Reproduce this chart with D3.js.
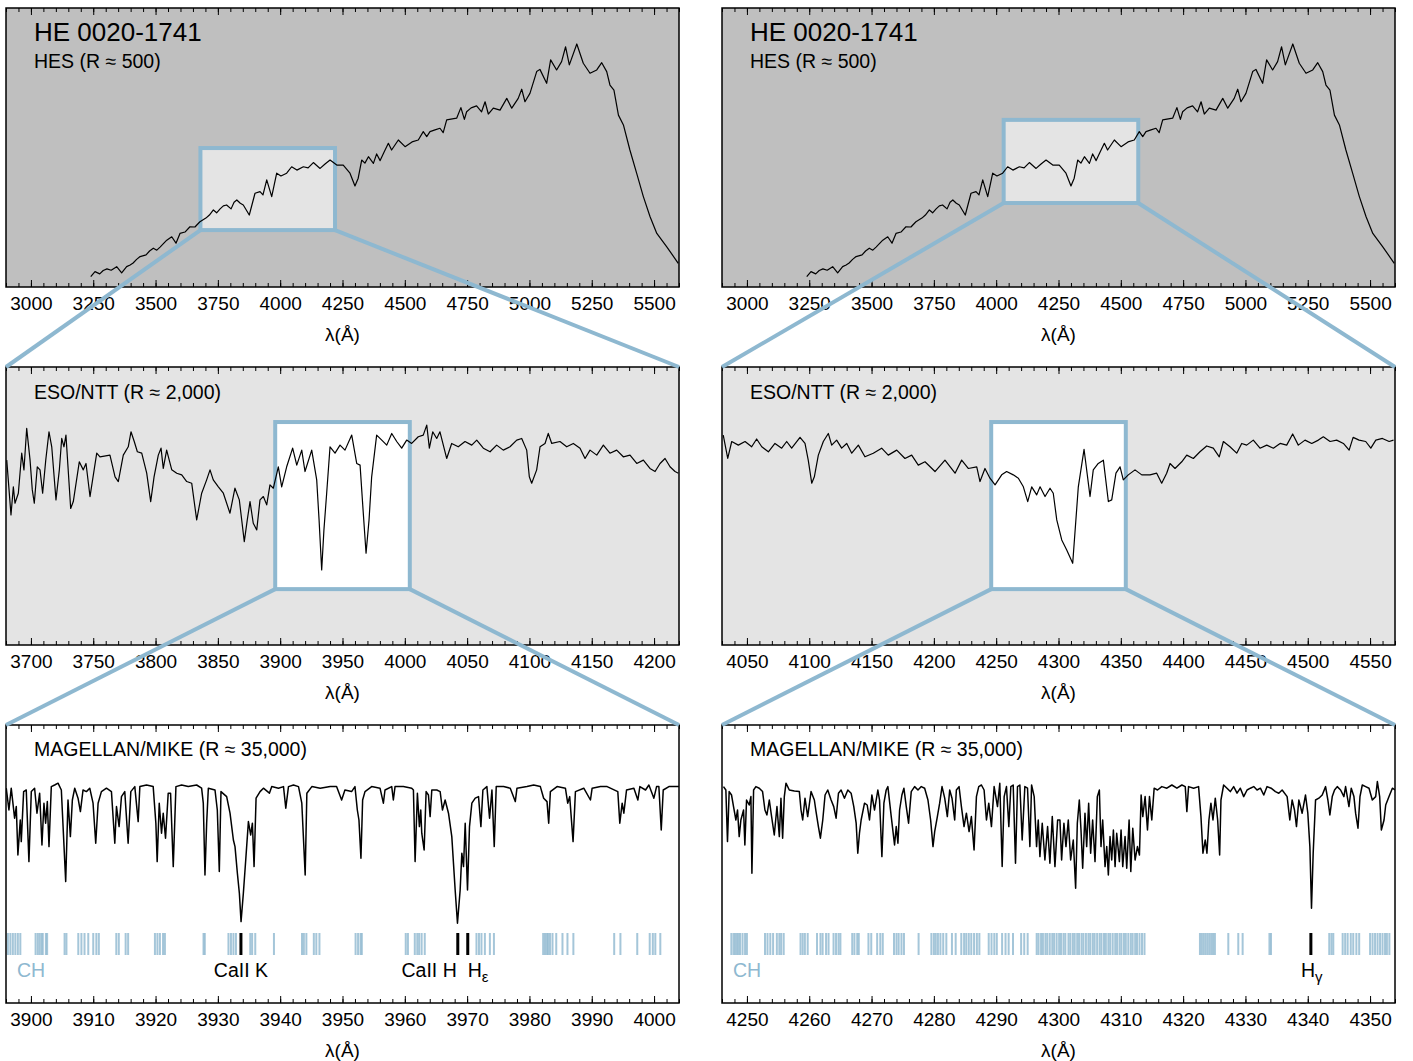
<!DOCTYPE html>
<html>
<head>
<meta charset="utf-8">
<script src="https://cdn.jsdelivr.net/npm/d3@7"></script>
<style>
  body { margin: 0; background: #fff; }
  svg text { font-family: "Liberation Sans", Arial, Helvetica, sans-serif; fill: #000; }
</style>
</head>
<body>
<svg id="chart" width="1413" height="1061"></svg>
<script>
// ---- data (wavelength in Angstrom, flux in arbitrary units) ----
const hesSpec = [
  [3240,3.7],[3257,5.5],[3276,4.7],[3290,5.9],[3305,6.5],[3322,6.0],[3344,7.3],[3364,5.1],[3384,7.3],[3398,7.9],[3410,8.6],[3424,9.9],[3438,10.9],[3462,11.5],
  [3476,12.9],[3491,13.9],[3505,13.2],[3518,14.3],[3545,16.8],[3565,18.0],[3582,15.7],[3598,19.2],[3618,19.7],[3638,21.6],[3658,21.5],[3678,23.4],
  [3702,24.7],[3716,25.8],[3732,27.6],[3745,26.6],[3759,28.0],[3772,29.1],[3785,29.4],[3803,28.0],[3815,30.4],[3826,31.2],[3840,30.0],[3852,29.4],[3876,25.8],[3899,33.6],[3919,34.2],
  [3931,33.0],[3946,38.4],[3966,32.4],[3986,40.8],[4003,39.8],[4026,40.8],[4046,43.1],[4067,41.9],[4093,43.1],[4112,42.7],
  [4133,44.6],[4160,42.5],[4180,44.1],[4200,45.5],[4227,43.7],[4253,43.7],[4280,40.8],[4300,36.2],[4313,39.0],[4327,45.5],
  [4340,44.4],[4354,46.7],[4374,44.3],[4387,47.7],[4401,45.3],[4417,48.4],[4434,51.5],[4447,49.1],[4474,52.7],[4501,50.3],
  [4529,52.0],[4554,52.7],[4574,55.7],[4588,53.9],[4601,55.7],[4621,56.3],[4641,56.9],[4654,55.3],[4668,59.9],[4685,60.2],
  [4708,60.5],[4725,64.3],[4739,60.1],[4748,62.8],[4766,64.2],[4788,64.9],[4808,62.8],[4822,66.4],[4835,62.0],[4855,64.1],
  [4882,63.4],[4909,67.6],[4929,64.1],[4955,67.6],[4969,70.9],[4982,66.4],[5002,69.4],[5029,77.2],[5042,78.0],[5069,73.0],
  [5085,81.4],[5109,77.8],[5129,80.8],[5145,86.1],[5160,79.6],[5190,87.1],[5216,80.2],[5243,76.6],[5270,77.8],[5290,80.4],
  [5310,77.2],[5323,72.4],[5339,70.6],[5357,61.6],[5377,58.1],[5403,49.1],[5430,40.8],[5457,32.4],[5484,25.2],[5511,19.2],
  [5551,14.4],[5597,8.5]
];

const nttBlue = [
  [3680.6,66.5],[3684.0,46.8],[3685.9,56.9],[3687.2,51.0],[3689.9,54.6],[3692.6,69.0],[3694.4,63.0],[3696.6,77.9],[3699.3,66.5],[3701.1,55.8],
  [3702.7,51.0],[3705.1,64.1],[3707.3,63.0],[3709.4,54.6],[3711.9,66.5],[3714.5,76.7],[3716.7,71.3],[3720.1,52.2],[3722.8,63.0],[3724.7,74.3],
  [3726.5,71.3],[3728.1,75.5],[3731.9,49.1],[3734.0,51.6],[3738.8,65.9],[3742.0,63.0],[3744.2,65.3],[3747.4,53.4],[3752.8,69.0],[3755.4,67.7],
  [3763.4,68.3],[3767.5,60.5],[3770.1,58.8],[3774.1,68.3],[3778.1,71.3],[3780.3,76.7],[3782.9,73.2],[3785.4,69.5],[3788.9,69.0],[3792.9,61.8],
  [3796.1,51.6],[3798.8,60.5],[3802.2,68.3],[3804.4,70.8],[3806.2,63.5],[3808.9,70.1],[3813.0,63.0],[3817.0,61.8],[3821.0,61.2],[3825.0,58.8],
  [3829.0,58.2],[3833.0,45.0],[3837.0,54.6],[3841.0,59.4],[3843.7,63.0],[3846.3,59.4],[3850.4,56.9],[3854.4,54.6],[3859.7,47.4],[3863.7,56.4],
  [3867.2,52.2],[3871.2,37.2],[3873.6,45.0],[3875.8,51.6],[3878.4,43.8],[3881.2,41.4],[3883.8,52.2],[3886.5,53.4],[3889.2,50.4],[3891.8,57.6],
  [3894.5,56.4],[3898.5,64.1],[3901.2,56.9],[3905.2,64.1],[3910.0,70.8],[3913.3,64.7],[3917.3,70.1],[3919.9,62.4],[3925.3,70.1],[3929.3,59.4],
  [3931.2,45.0],[3933.3,27.0],[3935.1,41.4],[3937.3,54.6],[3940.0,71.3],[3944.0,69.0],[3948.0,71.9],[3952.0,70.1],[3957.4,75.5],[3961.4,65.3],
  [3964.1,64.7],[3966.5,48.6],[3968.9,33.0],[3971.3,45.0],[3973.4,60.5],[3977.4,75.5],[3981.5,73.7],[3985.5,71.9],[3989.5,76.1],[3993.5,73.2],
  [3997.5,70.8],[4001.5,73.7],[4005.5,72.5],[4010.8,74.9],[4014.8,75.5],[4017.6,79.1],[4019.7,70.8],[4022.4,76.7],[4025.6,74.3],[4028.2,76.7],
  [4033.6,67.1],[4037.6,72.5],[4042.9,71.3],[4048.3,73.2],[4053.7,71.9],[4057.7,73.7],[4063.0,70.8],[4068.4,69.5],[4073.7,71.9],[4079.0,70.1],
  [4084.4,71.3],[4089.8,73.7],[4093.8,74.3],[4097.8,70.1],[4099.9,60.5],[4101.8,58.2],[4105.8,63.0],[4108.5,71.3],[4112.5,72.5],[4115.1,76.1],
  [4117.9,72.5],[4124.5,73.2],[4129.9,71.3],[4135.2,72.5],[4140.6,70.8],[4144.6,67.1],[4148.6,70.1],[4154.0,68.3],[4159.3,71.9],[4164.6,69.0],
  [4170.0,70.1],[4175.3,67.7],[4180.7,68.3],[4186.1,65.3],[4191.4,66.5],[4196.7,63.5],[4200.8,62.4],[4204.8,65.3],[4208.8,67.1],[4212.8,64.1],
  [4216.8,62.4],[4219.5,61.8]
];

const nttRed = [
  [4031.0,75.5],[4034.6,67.1],[4037.8,73.2],[4043.1,71.9],[4048.5,73.2],[4053.8,71.3],[4057.8,74.1],[4061.9,71.3],[4067.2,69.5],[4072.5,72.5],
  [4077.9,70.8],[4081.9,73.2],[4085.9,70.8],[4092.6,74.7],[4096.6,72.5],[4099.2,66.5],[4102.0,58.2],[4104.1,60.5],[4107.3,68.3],[4111.3,73.2],
  [4115.3,76.1],[4118.0,71.9],[4122.0,73.7],[4126.0,70.8],[4130.1,72.5],[4134.1,69.0],[4139.4,71.9],[4144.7,67.7],[4151.4,69.0],[4158.1,70.8],
  [4163.4,68.3],[4170.2,70.1],[4176.8,67.1],[4182.2,68.3],[4187.5,64.7],[4192.9,65.9],[4200.9,62.4],[4208.9,66.5],[4217.0,61.8],[4222.3,66.5],
  [4227.6,63.5],[4234.4,64.1],[4237.0,58.8],[4241.0,63.5],[4245.0,60.0],[4249.1,57.6],[4254.4,61.2],[4258.4,62.4],[4263.7,61.2],[4267.8,60.0],
  [4271.8,56.9],[4275.3,51.6],[4278.5,56.9],[4282.5,54.0],[4285.2,56.9],[4289.2,53.4],[4293.2,56.4],[4295.8,54.6],[4298.6,45.0],[4302.6,37.8],
  [4306.6,34.2],[4311.4,29.4],[4315.9,56.9],[4320.5,70.4],[4325.3,53.4],[4327.9,63.0],[4331.9,65.3],[4336.0,66.5],[4340.0,51.6],[4342.7,52.2],
  [4346.1,61.8],[4349.4,64.1],[4352.0,59.4],[4356.0,61.2],[4361.4,63.0],[4366.8,61.2],[4373.4,61.2],[4378.8,61.8],[4382.8,58.2],[4386.8,61.8],
  [4389.5,65.3],[4393.5,63.5],[4398.9,65.9],[4402.9,68.3],[4408.2,67.1],[4413.5,69.5],[4418.9,71.6],[4424.2,70.8],[4429.0,67.7],[4432.3,73.2],
  [4437.6,71.3],[4443.0,69.0],[4447.0,72.5],[4451.0,71.9],[4456.3,73.7],[4461.7,70.8],[4467.1,71.9],[4472.4,70.8],[4477.8,72.5],[4483.1,71.9],
  [4487.9,75.9],[4492.4,71.9],[4497.8,73.7],[4503.2,72.5],[4508.5,73.7],[4512.5,74.9],[4517.9,73.2],[4523.2,73.7],[4528.6,72.5],[4533.2,70.1],
  [4536.4,74.7],[4541.2,73.7],[4546.5,73.2],[4550.6,70.8],[4554.6,73.7],[4559.9,74.3],[4565.3,73.2],[4568.8,73.7]
];

const mikeBlue = [
  [3896.04,0.992],[3896.47,0.883],[3896.84,0.992],[3897.38,0.842],[3897.65,0.9],[3897.91,0.658],[3898.29,0.833],[3898.45,0.725],[3898.83,0.975],[3899.25,0.983],
  [3899.68,0.625],[3900.06,0.975],[3900.59,0.992],[3900.97,0.867],[3901.4,0.967],[3901.77,0.708],[3902.09,0.917],[3902.36,0.817],[3902.63,0.925],[3902.9,0.7],
  [3903.27,1.0],[3903.81,1.008],[3904.35,1.017],[3904.88,0.983],[3905.58,0.525],[3905.95,0.933],[3906.33,0.75],[3906.65,0.933],[3907.03,0.992],[3907.56,0.942],
  [3907.94,0.875],[3908.36,0.983],[3908.9,0.975],[3909.44,0.992],[3909.97,0.917],[3910.4,0.717],[3910.78,0.917],[3911.31,0.975],[3912.12,0.992],[3912.92,0.975],
  [3913.46,0.717],[3913.73,0.9],[3914.15,0.8],[3914.53,0.95],[3915.06,0.975],[3915.6,0.717],[3916.03,0.975],[3916.67,1.0],[3917.21,0.825],[3917.48,1.0],
  [3918.55,1.008],[3919.62,1.0],[3920.05,0.817],[3920.26,0.625],[3920.59,0.917],[3920.96,0.767],[3921.23,0.867],[3921.6,0.742],[3922.03,0.967],[3922.41,0.967],
  [3922.84,0.6],[3923.27,1.0],[3924.18,1.008],[3925.25,1.0],[3926.59,1.008],[3927.39,0.992],[3927.66,0.917],[3927.93,0.558],[3928.2,0.817],[3928.47,0.992],
  [3929.54,0.983],[3929.91,0.883],[3930.23,0.575],[3930.5,0.975],[3931.41,0.95],[3931.95,0.867],[3932.49,0.733],[3932.75,0.7],[3933.13,0.567],[3933.45,0.467],
  [3933.72,0.325],[3934.09,0.467],[3934.47,0.633],[3934.9,0.825],[3935.27,0.758],[3935.54,0.817],[3935.81,0.6],[3936.13,0.942],[3936.77,0.975],[3937.31,0.992],
  [3938.27,0.967],[3938.65,1.0],[3939.72,0.992],[3940.53,1.0],[3940.9,0.892],[3941.33,1.0],[3942.13,1.008],[3942.94,1.0],[3943.47,0.917],[3944.01,0.558],
  [3944.28,0.967],[3945.08,1.0],[3946.42,0.992],[3948.03,1.0],[3949.05,1.0],[3949.86,0.933],[3950.39,0.983],[3951.46,0.975],[3952.0,1.0],[3952.38,0.883],
  [3952.64,0.833],[3952.96,0.642],[3953.23,0.933],[3953.61,0.975],[3954.68,1.0],[3956.02,0.992],[3956.56,0.917],[3956.82,0.983],[3957.9,1.0],[3958.16,0.933],
  [3958.43,1.0],[3959.77,1.0],[3961.11,0.992],[3961.38,0.983],[3961.65,0.625],[3962.02,0.967],[3962.34,0.8],[3962.56,0.883],[3962.72,0.767],[3963.1,0.683],
  [3963.42,0.975],[3963.79,0.958],[3964.06,0.85],[3964.33,0.983],[3965.13,0.983],[3965.67,0.975],[3966.04,0.883],[3966.47,0.933],[3967.01,0.867],[3967.54,0.75],
  [3968.08,0.483],[3968.45,0.317],[3968.88,0.483],[3969.15,0.667],[3969.42,0.6],[3969.69,0.817],[3970.06,0.483],[3970.38,0.8],[3970.76,0.917],[3971.3,0.942],
  [3971.83,0.95],[3972.21,0.8],[3972.53,0.983],[3973.17,1.0],[3973.6,0.842],[3973.98,0.983],[3974.35,0.7],[3974.67,1.0],[3975.85,1.0],[3976.92,0.992],
  [3977.73,0.925],[3978.0,0.992],[3979.6,1.0],[3980.68,1.008],[3981.75,1.0],[3982.28,0.942],[3982.82,0.925],[3983.09,0.817],[3983.36,0.975],[3984.43,1.0],
  [3985.77,0.992],[3986.14,0.917],[3986.46,0.95],[3987.0,0.725],[3987.38,0.975],[3988.72,0.992],[3989.79,0.933],[3990.06,0.992],[3991.4,1.0],[3992.47,1.0],
  [3994.18,0.975],[3994.5,0.817],[3994.88,0.917],[3995.15,0.867],[3995.58,0.983],[3996.76,0.992],[3997.4,0.933],[3997.72,1.0],[3998.63,0.983],[3999.17,1.008],
  [3999.97,0.942],[4000.4,1.0],[4000.77,1.0],[4001.15,0.783],[4001.47,0.983],[4002.38,1.0],[4003.99,1.0]
];

const mikeRed = [
  [4246.24,1.0],[4246.62,0.983],[4246.88,0.725],[4247.15,0.975],[4247.53,0.958],[4247.85,0.9],[4248.23,0.833],[4248.49,0.883],[4248.76,0.75],[4249.03,0.833],
  [4249.46,0.883],[4249.67,0.708],[4249.94,0.933],[4250.37,0.908],[4250.64,0.95],[4250.8,0.567],[4251.07,0.983],[4251.44,1.0],[4251.98,0.992],[4252.51,0.975],
  [4252.89,0.883],[4253.21,0.858],[4253.59,0.933],[4253.96,0.85],[4254.39,0.758],[4254.82,0.9],[4255.2,0.75],[4255.46,0.942],[4255.73,0.742],[4256.0,0.95],
  [4256.27,1.017],[4256.8,0.983],[4257.61,0.978],[4258.41,0.975],[4258.68,0.883],[4258.95,0.833],[4259.32,0.942],[4259.75,0.85],[4260.29,0.975],[4260.82,0.933],
  [4261.09,0.875],[4261.47,0.8],[4261.79,0.742],[4262.17,0.833],[4262.54,0.958],[4262.97,0.983],[4263.51,0.933],[4263.93,0.9],[4264.31,0.842],[4264.69,0.967],
  [4265.11,0.983],[4265.65,0.942],[4266.19,0.983],[4266.72,0.967],[4267.15,0.9],[4267.53,0.817],[4267.79,0.667],[4268.06,0.767],[4268.33,0.833],[4268.87,0.917],
  [4269.3,0.908],[4269.67,0.833],[4270.05,0.958],[4270.48,0.883],[4271.01,0.983],[4271.28,0.933],[4271.66,0.65],[4271.98,0.917],[4272.35,0.983],[4272.62,1.0],
  [4273.16,0.85],[4273.69,0.708],[4273.96,0.8],[4274.23,0.717],[4274.5,0.883],[4274.87,0.958],[4275.19,0.992],[4275.57,0.9],[4275.94,0.817],[4276.37,0.975],
  [4276.91,1.0],[4277.45,0.983],[4277.98,1.0],[4278.52,0.992],[4279.05,0.933],[4279.48,0.833],[4279.86,0.7],[4280.13,0.775],[4280.56,0.85],[4280.93,0.917],
  [4281.31,1.0],[4281.74,0.942],[4282.16,0.85],[4282.54,0.983],[4282.91,0.942],[4283.34,0.833],[4283.61,0.983],[4284.04,1.0],[4284.42,0.9],[4284.84,0.8],
  [4285.22,0.867],[4285.65,0.775],[4286.02,0.85],[4286.45,0.683],[4286.83,0.95],[4287.2,1.0],[4287.63,1.008],[4288.06,0.983],[4288.44,0.833],[4288.81,0.917],
  [4289.24,0.8],[4289.67,1.0],[4290.21,0.9],[4290.58,1.017],[4290.96,0.6],[4291.28,0.95],[4291.65,1.0],[4292.03,0.8],[4292.35,1.0],[4292.73,1.008],
  [4293.1,0.617],[4293.42,1.0],[4293.8,1.008],[4294.17,0.733],[4294.6,1.0],[4295.03,0.992],[4295.41,0.7],[4295.68,1.008],[4296.1,0.95],[4296.48,0.7],
  [4296.75,0.833],[4297.02,0.65],[4297.39,0.817],[4297.82,0.633],[4298.25,0.8],[4298.62,0.617],[4299.0,0.85],[4299.43,0.6],[4299.86,0.833],[4300.23,0.833],
  [4300.5,0.633],[4300.87,0.817],[4301.2,0.7],[4301.57,0.833],[4301.95,0.633],[4302.37,0.733],[4302.75,0.492],[4303.02,0.817],[4303.34,0.933],[4303.61,0.783],
  [4303.88,0.592],[4304.25,0.867],[4304.52,0.7],[4304.84,0.917],[4305.16,0.667],[4305.48,0.833],[4305.86,0.625],[4306.23,0.95],[4306.56,0.983],[4306.82,0.7],
  [4307.09,0.833],[4307.47,0.6],[4307.74,0.7],[4308.0,0.558],[4308.27,0.75],[4308.54,0.633],[4308.81,0.783],[4309.08,0.6],[4309.34,0.767],[4309.77,0.625],
  [4310.04,0.783],[4310.31,0.6],[4310.68,0.75],[4310.95,0.592],[4311.33,0.833],[4311.6,0.575],[4311.92,0.792],[4312.29,0.633],[4312.67,0.7],[4312.99,0.658],
  [4313.26,0.958],[4313.53,0.85],[4313.9,0.95],[4314.28,0.783],[4314.6,0.95],[4314.97,0.833],[4315.35,0.992],[4315.89,0.983],[4316.58,1.0],[4317.39,0.992],
  [4318.19,1.008],[4319.0,0.992],[4319.8,1.008],[4320.34,1.0],[4320.6,0.875],[4320.87,1.0],[4321.68,0.992],[4322.48,1.0],[4322.86,0.85],[4323.18,0.667],
  [4323.55,0.733],[4323.82,0.667],[4324.14,0.833],[4324.46,0.917],[4324.79,0.833],[4325.16,0.942],[4325.54,0.833],[4325.86,0.658],[4326.07,0.933],[4326.5,1.008],
  [4327.04,0.992],[4327.57,0.975],[4328.11,1.0],[4328.65,0.967],[4329.18,0.992],[4329.72,0.95],[4330.26,0.983],[4330.79,0.992],[4331.33,1.0],[4331.86,0.983],
  [4332.4,0.992],[4332.94,0.958],[4333.47,1.0],[4334.12,0.992],[4334.81,0.975],[4335.35,0.967],[4335.89,0.983],[4336.69,0.95],[4337.12,0.833],[4337.49,0.933],
  [4337.87,0.883],[4338.19,0.8],[4338.57,0.933],[4339.1,0.867],[4339.64,0.958],[4340.01,0.867],[4340.34,0.7],[4340.6,0.392],[4340.87,0.667],[4341.25,0.933],
  [4341.78,0.942],[4342.32,0.958],[4342.86,1.0],[4343.23,0.933],[4343.55,0.858],[4343.93,0.95],[4344.3,0.983],[4344.73,1.0],[4345.27,0.983],[4345.8,0.95],
  [4346.07,1.0],[4346.61,0.9],[4346.98,0.992],[4347.41,0.95],[4347.68,0.867],[4348.06,0.792],[4348.38,0.95],[4348.75,1.008],[4349.29,1.0],[4349.83,0.992],
  [4350.36,0.933],[4350.9,0.95],[4351.17,1.025],[4351.54,0.95],[4351.81,0.783],[4352.24,0.833],[4352.51,0.908],[4353.04,0.95],[4353.58,0.992],[4354.0,0.983]
];

// CH molecular line positions (Angstrom)
const chBlue = [3896.3,3896.7,3897.1,3897.5,3897.9,3898.3,3900.75,3901.1,3901.4,3901.7,3901.9,3902.4,3902.6,3905.4,3905.7,
  3907.6,3908.1,3908.6,3909.2,3910.0,3910.5,3910.9,3913.7,3914.1,3915.2,3915.6,3919.9,3920.3,3920.7,3921.2,3921.5,
  3927.7,3927.9,3931.7,3932.1,3932.5,3932.9,3935.2,3935.5,3936.0,3939.0,3943.5,3943.8,3944.2,3945.4,3945.8,3946.3,
  3952.1,3952.5,3952.9,3953.1,3960.15,3960.5,3961.6,3962.0,3962.3,3962.7,3963.2,3971.5,3971.9,3972.3,3972.85,3973.65,3974.3,
  3982.2,3982.5,3982.8,3983.0,3983.3,3983.7,3984.3,3985.3,3986.1,3987.05,3993.6,3994.6,3997.3,3999.3,3999.8,4000.2,4001.0];
const chRed = [4247.5,4247.85,4248.1,4248.4,4248.65,4248.9,4249.3,4249.7,4250.0,4252.9,4253.3,4253.75,4254.2,4254.8,4255.2,4255.5,4255.9,
  4258.6,4258.95,4259.3,4259.75,4261.25,4261.8,4262.15,4262.7,4263.1,4263.9,4264.3,4264.7,4265.0,4266.9,4267.25,4267.7,4267.95,
  4269.5,4269.95,4270.9,4271.4,4271.8,4273.6,4274.0,4274.35,4274.8,4275.2,4277.55,4279.6,4280.0,4280.3,4280.65,4281.05,4281.5,4282.0,
  4282.9,4283.5,4284.4,4284.85,4285.2,4285.6,4286.0,4286.45,4286.9,4287.3,4288.8,4289.25,4289.7,4290.1,4290.95,4291.5,4292.0,4292.7,
  4294.0,4294.5,4295.05,4296.5,4296.8,4297.2,4297.5,4297.9,4298.2,4298.6,4299.0,4299.3,4299.7,4300.1,4300.4,4300.8,4301.1,4301.6,
  4301.9,4302.3,4302.6,4303.0,4303.3,4303.7,4304.0,4304.4,4304.8,4305.1,4305.5,4305.8,4306.2,4306.6,4306.9,4307.3,4307.6,4308.0,
  4308.3,4308.7,4309.1,4309.4,4309.8,4310.1,4310.5,4310.8,4311.2,4311.6,4311.9,4312.3,4312.6,4313.0,4313.4,4313.8,
  4322.7,4323.0,4323.3,4323.6,4323.9,4324.2,4324.5,4324.8,4325.1,4327.25,4328.85,4329.55,4333.85,4334.1,
  4343.45,4343.8,4344.1,4345.6,4346.0,4346.4,4346.9,4347.3,4347.8,4348.25,4350.0,4350.4,4350.8,4351.2,4351.6,4352.0,4352.4,4352.7,4353.1];

// labelled atomic lines
const linesBlue = [{w: 3933.7, label: "CaII K", anchor: "middle"}, {w: 3968.5, label: "CaII H", anchor: "end"}, {w: 3970.1, label: "H", sub: "ε", anchor: "start"}];
const linesRed = [{w: 4340.5, label: "H", sub: "γ", anchor: "hgamma"}];

const ticksHes = [3000, 3250, 3500, 3750, 4000, 4250, 4500, 4750, 5000, 5250, 5500];
const ticksNttBlue = [3700, 3750, 3800, 3850, 3900, 3950, 4000, 4050, 4100, 4150, 4200];
const ticksNttRed = [4050, 4100, 4150, 4200, 4250, 4300, 4350, 4400, 4450, 4500, 4550];
const ticksMikeBlue = [3900, 3910, 3920, 3930, 3940, 3950, 3960, 3970, 3980, 3990, 4000];
const ticksMikeRed = [4250, 4260, 4270, 4280, 4290, 4300, 4310, 4320, 4330, 4340, 4350];

// ---- layout ----
const BLUE = "#8eb8d0";
const W = 673;
const colX = [6, 722];
const rows = [{y0: 8, y1: 287}, {y0: 367, y1: 645}, {y0: 725, y1: 1003}];

const svg = d3.select("#chart");
const connectors = [];

function makePanel(p) {
  const r = rows[p.row], x0 = colX[p.col];
  const x = d3.scaleLinear().domain(p.xDomain).range([x0, x0 + W]);
  const y = d3.scaleLinear().domain(p.yDomain).range([r.y1, r.y0]);
  const g = svg.append("g");
  const clipId = "clip" + p.row + p.col;
  svg.append("clipPath").attr("id", clipId)
    .append("rect").attr("x", x0).attr("y", r.y0).attr("width", W).attr("height", r.y1 - r.y0);

  g.append("rect").attr("x", x0).attr("y", r.y0).attr("width", W).attr("height", r.y1 - r.y0)
    .attr("fill", p.bg);

  let box = null;
  if (p.box) {
    box = {x0: x(p.box.x[0]), x1: x(p.box.x[1]), yTop: y(p.box.y[1]), yBot: y(p.box.y[0])};
    g.append("rect").attr("x", box.x0).attr("y", box.yTop)
      .attr("width", box.x1 - box.x0).attr("height", box.yBot - box.yTop)
      .attr("fill", p.box.fill).attr("stroke", BLUE).attr("stroke-width", 4);
  }

  g.append("path").datum(p.data)
    .attr("clip-path", `url(#${clipId})`)
    .attr("fill", "none").attr("stroke", "#000").attr("stroke-width", p.lw)
    .attr("stroke-linejoin", "round")
    .attr("d", d3.line().x(d => x(d[0])).y(d => y(d[1])));

  // line markers
  if (p.ch) {
    const mt = r.y0 + 208, mb = r.y0 + 230;
    g.append("g").selectAll("line").data(p.ch).join("line")
      .attr("x1", d => x(d)).attr("x2", d => x(d)).attr("y1", mt).attr("y2", mb)
      .attr("stroke", BLUE).attr("stroke-width", 2).attr("stroke-opacity", 0.8);
    g.append("g").selectAll("line").data(p.lines).join("line")
      .attr("x1", d => x(d.w)).attr("x2", d => x(d.w)).attr("y1", mt).attr("y2", mb)
      .attr("stroke", "#000").attr("stroke-width", 3);
    g.append("text").attr("x", x0 + 11).attr("y", r.y0 + 252)
      .style("font-size", "19.5px").style("fill", BLUE).text("CH");
    p.lines.forEach(d => {
      const t = g.append("text").attr("y", r.y0 + 252).style("font-size", "19.5px");
      if (d.anchor === "hgamma") {
        t.attr("x", x(d.w) - 10).attr("text-anchor", "start");
      } else {
        t.attr("x", x(d.w) + (d.anchor === "end" ? -1 : 0)).attr("text-anchor", d.anchor);
      }
      t.append("tspan").text(d.label);
      if (d.sub) t.append("tspan").attr("dy", 5).style("font-size", "15px").text(d.sub);
    });
  }

  // frame
  g.append("rect").attr("x", x0).attr("y", r.y0).attr("width", W).attr("height", r.y1 - r.y0)
    .attr("fill", "none").attr("stroke", "#000").attr("stroke-width", 1.5);

  // axes: major + minor ticks, inward, on top and bottom
  const d0 = p.xDomain[0], d1 = p.xDomain[1];
  const minor = d3.range(Math.ceil(d0 / p.minor) * p.minor, d1 + 1e-6, p.minor);
  const axes = [
    g.append("g").attr("transform", `translate(0,${r.y1})`)
      .call(d3.axisBottom(x).tickValues(minor).tickSize(-4).tickFormat("")),
    g.append("g").attr("transform", `translate(0,${r.y0})`)
      .call(d3.axisTop(x).tickValues(minor).tickSize(-4).tickFormat("")),
    g.append("g").attr("transform", `translate(0,${r.y0})`)
      .call(d3.axisTop(x).tickValues(p.ticks).tickSize(-7).tickFormat("")),
    g.append("g").attr("transform", `translate(0,${r.y1})`)
      .call(d3.axisBottom(x).tickValues(p.ticks).tickSize(-7).tickPadding(9.5).tickFormat(d => d))
  ];
  axes.forEach(a => {
    a.select(".domain").remove();
    a.attr("font-family", null).attr("font-size", null);
    a.selectAll("line").attr("stroke-width", 1);
    a.selectAll("text").style("font-size", "19px");
  });

  g.append("text").attr("x", x0 + W / 2).attr("y", r.y1 + 54).attr("text-anchor", "middle")
    .style("font-size", "19px").text("λ(Å)");

  p.titles.forEach(t => {
    g.append("text").attr("x", x0 + 28).attr("y", r.y0 + t.dy)
      .style("font-size", t.size + "px").text(t.text);
  });

  return {x, y, box, x0, x1: x0 + W, y0: r.y0};
}

const domains = {
  hes: [2900, 5600],
  nttBlue: [3680, 4220], nttRed: [4030, 4570],
  mikeBlue: [3896, 4004], mikeRed: [4246, 4354]
};

const columns = [
  {nttDomain: domains.nttBlue, mikeDomain: domains.mikeBlue, hesBoxY: [20.4, 49.8], ntt: nttBlue, mike: mikeBlue,
   nttTicks: ticksNttBlue, mikeTicks: ticksMikeBlue, ch: chBlue, lines: linesBlue},
  {nttDomain: domains.nttRed, mikeDomain: domains.mikeRed, hesBoxY: [30.1, 59.9], ntt: nttRed, mike: mikeRed,
   nttTicks: ticksNttRed, mikeTicks: ticksMikeRed, ch: chRed, lines: linesRed}
];

columns.forEach((c, ci) => {
  const top = makePanel({
    row: 0, col: ci, xDomain: domains.hes, yDomain: [0, 100], bg: "#bfbfbf", data: hesSpec, lw: 1.2,
    ticks: ticksHes, minor: 50,
    box: {x: c.nttDomain, y: c.hesBoxY, fill: "#e4e4e4"},
    titles: [{text: "HE 0020-1741", dy: 33, size: 26}, {text: "HES (R ≈ 500)", dy: 60, size: 19.5}]
  });
  const mid = makePanel({
    row: 1, col: ci, xDomain: c.nttDomain, yDomain: [0, 100], bg: "#e4e4e4", data: c.ntt, lw: 1.2,
    ticks: c.nttTicks, minor: 10,
    box: {x: c.mikeDomain, y: [20.1, 80.2], fill: "#fff"},
    titles: [{text: "ESO/NTT (R ≈ 2,000)", dy: 32, size: 19.5}]
  });
  const bot = makePanel({
    row: 2, col: ci, xDomain: c.mikeDomain, yDomain: [-0.082, 1.308], bg: "#fff", data: c.mike, lw: 1.5,
    ticks: c.mikeTicks, minor: 2, ch: c.ch, lines: c.lines,
    titles: [{text: "MAGELLAN/MIKE (R ≈ 35,000)", dy: 31, size: 19.5}]
  });
  connectors.push([top.box.x0, top.box.yBot, mid.x0, mid.y0], [top.box.x1, top.box.yBot, mid.x1, mid.y0]);
  connectors.push([mid.box.x0, mid.box.yBot, bot.x0, bot.y0], [mid.box.x1, mid.box.yBot, bot.x1, bot.y0]);
});

// zoom connectors drawn last, over everything
svg.append("g").selectAll("line").data(connectors).join("line")
  .attr("x1", d => d[0]).attr("y1", d => d[1]).attr("x2", d => d[2]).attr("y2", d => d[3])
  .attr("stroke", BLUE).attr("stroke-width", 4);
</script>
</body>
</html>
